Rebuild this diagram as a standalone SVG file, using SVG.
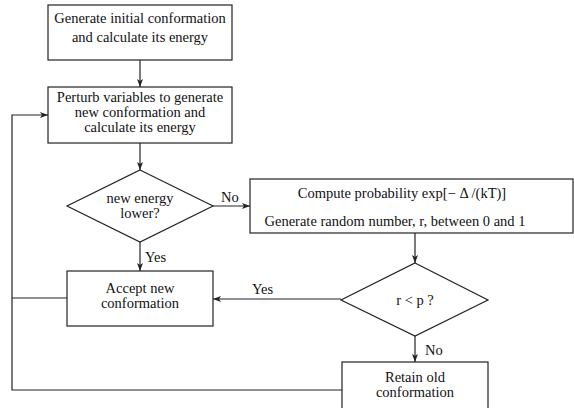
<svg xmlns="http://www.w3.org/2000/svg" width="574" height="408" viewBox="0 0 574 408" font-family="'Liberation Serif', 'Times New Roman', Times, serif">
<defs>
<marker id="ah" markerWidth="8" markerHeight="6" refX="8" refY="3" orient="auto" markerUnits="userSpaceOnUse">
<path d="M0,0 L8,3 L0,6 L2,3 Z" fill="#222"/>
</marker>
<style>
.box{fill:#fff;stroke:#222;stroke-width:1.2}
.ln{fill:none;stroke:#222;stroke-width:1.2}
text{font-family:'Liberation Serif','Times New Roman',Times,serif;font-size:14.5px;fill:#111}
.c{text-anchor:middle}
</style>
</defs>
<rect width="574" height="408" fill="#fff"/>
<g id="connectors">
<path class="ln" d="M140,60 V87" marker-end="url(#ah)"/>
<path class="ln" d="M140,143 V170" marker-end="url(#ah)"/>
<path class="ln" d="M213,206 H250" marker-end="url(#ah)"/>
<path class="ln" d="M140,242 V271" marker-end="url(#ah)"/>
<path class="ln" d="M415,233 V263" marker-end="url(#ah)"/>
<path class="ln" d="M341,299 H213" marker-end="url(#ah)"/>
<path class="ln" d="M415,336 V362" marker-end="url(#ah)"/>
<path class="ln" d="M67,298 H12"/>
<path class="ln" d="M342,390 H12 V115 H48" marker-end="url(#ah)"/>
<text x="221" y="202">No</text>
<text x="145" y="262">Yes</text>
<text x="252" y="294">Yes</text>
<text x="425" y="355">No</text>
</g>
<g id="n1">
<rect class="box" x="48" y="5" width="184" height="55"/>
<text class="c" x="140" y="23">Generate initial conformation</text>
<text class="c" x="140" y="42">and calculate its energy</text>
</g>
<g id="n2">
<rect class="box" x="48" y="87" width="184" height="56"/>
<text class="c" x="140" y="102">Perturb variables to generate</text>
<text class="c" x="140" y="117">new conformation and</text>
<text class="c" x="140" y="132">calculate its energy</text>
</g>
<g id="n3">
<polygon class="box" points="140,170 213,206 140,242 67,206"/>
<text class="c" x="140" y="203">new energy</text>
<text class="c" x="140" y="218">lower?</text>
</g>
<g id="n4">
<rect class="box" x="250" y="179" width="323" height="54"/>
<text class="c" x="402" y="198">Compute probability exp[− Δ /(kT)]</text>
<text class="c" x="395" y="226">Generate random number, r, between 0 and 1</text>
</g>
<g id="n5">
<rect class="box" x="67" y="271" width="146" height="55"/>
<text class="c" x="140" y="293">Accept new</text>
<text class="c" x="140" y="308">conformation</text>
</g>
<g id="n6">
<polygon class="box" points="415,263 488,300 415,336 341,300"/>
<text class="c" x="415" y="305">r &lt; p ?</text>
</g>
<g id="n7">
<rect class="box" x="342" y="362" width="146" height="50"/>
<text class="c" x="415" y="382">Retain old</text>
<text class="c" x="415" y="397">conformation</text>
</g>
</svg>
